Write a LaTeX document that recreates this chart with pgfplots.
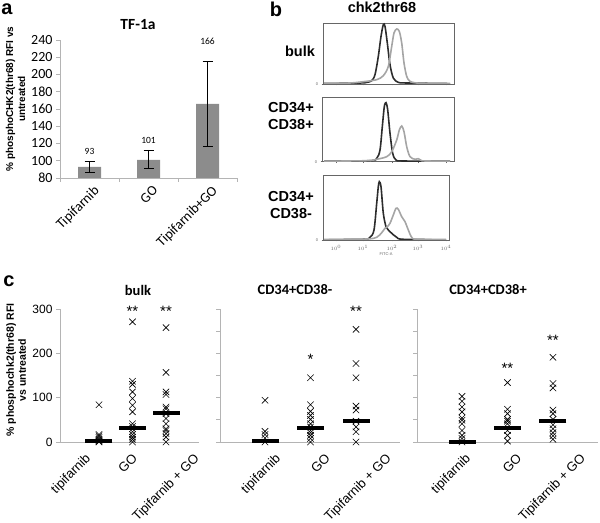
\documentclass[border=0pt]{standalone}
\usepackage{fontspec}
\setmainfont{Liberation Sans}
\newfontfamily\calfont{Carlito}
\usepackage{pgfplots}
\pgfplotsset{compat=1.18}

\newcommand\fs[2]{\fontsize{#1}{#2}\selectfont}

\definecolor{barg}{RGB}{140,140,140}
\definecolor{axg}{RGB}{180,180,180}
\definecolor{hdark}{RGB}{45,45,45}
\definecolor{hlight}{RGB}{165,165,165}

\pgfplotsset{
  base/.style={scale only axis, anchor=south west,
    /pgf/number format/assume math mode=true},
  xl/.style={base, clip=false, axis x line*=bottom, axis y line*=left,
    axis line style={axg, line width=0.8bp},
    tick style={axg, line width=0.8bp}, tick align=outside,
    major tick length=4bp},
  scat/.style={xl, width=#1, height=133bp, ymin=0, ymax=300,
    xtick style={draw=none},
    x tick label style={rotate=45, anchor=north east, inner sep=0pt,
      yshift=-9bp, font=\fs{13bp}{13bp}},
    y tick label style={font=\fs{12bp}{12bp}}},
  hist/.style={base, axis line style={black!60, line width=0.7bp},
    tick style={black!60, line width=0.5bp}, tick align=outside,
    major tick length=1.5bp, tick pos=left, ymin=0,
    xtick={336,363,392,418,446}, xticklabels={}, ytick={0},
    y tick label style={font=\fs{4bp}{4bp}, black!60}},
  cross/.style={only marks, mark=x, mark size=4.5bp, line width=0.6bp, black},
  med/.style={only marks, mark=-, mark size=13.5bp,
    mark options={line width=4bp}, black},
  stars/.style={draw=none, mark=none, nodes near coords,
    point meta=explicit symbolic,
    every node near coord/.append style={anchor=center, font=\fs{15bp}{15bp}}},
  dk/.style={smooth, draw=hdark, line width=1.6bp, mark=none},
  lt/.style={smooth, draw=hlight, line width=1.6bp, mark=none},
}

\begin{document}
\begin{tikzpicture}[x=1bp, y=1bp]
\path[use as bounding box] (0,0) rectangle (600,523);

% ---------- a ----------
\begin{axis}[xl, clip=true, at={(60bp,345bp)}, width=177bp, height=138bp,
  xmin=-0.5, xmax=2.5, ymin=80, ymax=240, ytick={80,100,...,240},
  xtick={-0.5,0.5,1.5,2.5}, xticklabels={Tipifarnib,GO,Tipifarnib+GO},
  x tick label as interval,
  x tick label style={rotate=45, anchor=north east, xshift=4bp, yshift=-1bp,
    font=\calfont\fs{14bp}{14bp}},
  y tick label style={font=\calfont\fs{14bp}{14bp}}]
\addplot[ybar, bar width=23bp, fill=barg, draw=none,
  error bars/.cd, y dir=both, y explicit,
  error bar style={black, line width=0.8bp},
  error mark options={black, line width=0.8bp, mark size=5bp, rotate=90}]
  coordinates {(0,93) += (0,6.4) -= (0,6.8)
               (1,101) += (0,11.5) -= (0,10.3)
               (2,166) += (0,49) -= (0,49)};
\addplot[draw=none, mark=none, nodes near coords, point meta=explicit symbolic,
  every node near coord/.append style={anchor=center, font=\calfont\fs{9.5bp}{9.5bp}}]
  coordinates {(0,110.5)[93] (1,123)[101] (2,238)[166]};
\end{axis}

\node[font=\bfseries\fs{20bp}{20bp}] at (7,514) {a};
\node[font=\calfont\bfseries\fs{15.5bp}{15.5bp}] at (138,498) {TF-1a};
\node[font=\bfseries\fs{10bp}{12bp}, rotate=90, align=center] at (15.5,424)
  {\% phosphoCHK2(thr68) RFI vs\\untreated};

% ---------- b ----------
\begin{axis}[hist, at={(323bp,439bp)}, width=131bp, height=61bp,
  xmin=323, xmax=454, ymax=61]
\addplot[dk] coordinates {(324,0.5) (360,1) (366.7,1.6) (371.7,3.3) (375,9.3)
  (378.3,27.6) (381,47.6) (383.3,59.3) (385,57.6) (387.3,41) (390,19.3)
  (393.3,6) (398.3,1.6) (406.7,1) (450,0.4)};
\addplot[lt] coordinates {(324,0.5) (350,1) (363.3,2.3) (376.7,4.3) (383.3,8.3)
  (388.3,17.6) (391.7,37.6) (394,51) (396.7,55) (399.3,52.6) (401.7,41)
  (404,21) (406.7,7.6) (410,2.6) (416.7,1) (430,0.6) (450,0.4)};
\end{axis}

\begin{axis}[hist, at={(322bp,361.3bp)}, width=132bp, height=64.4bp,
  xmin=322, xmax=454, ymax=64.4]
\addplot[dk] coordinates {(324,0.5) (370,1) (376.7,3.4) (380,11.7) (382.3,35)
  (384.3,55) (386,59) (387.7,51.7) (390,28.4) (392.7,8.4) (396,1.7)
  (403.3,0.7) (450,0.4)};
\addplot[lt] coordinates {(324,0.5) (366.7,1) (376.7,2.4) (386.7,5) (391.7,10)
  (396.7,21.7) (399.3,31.7) (401.7,35.7) (404,30) (406.7,15) (410,5)
  (415,2.4) (418.3,3) (421.7,1) (426.7,0.7) (450,0.4)};
\end{axis}

\begin{axis}[hist, at={(323bp,283bp)}, width=126bp, height=65bp,
  xmin=323, xmax=449, ymax=65,
  xticklabels={$10^0$,$10^1$,$10^2$,$10^3$,$10^4$},
  x tick label style={font=\fs{4.5bp}{4.5bp}, black!60},
  xlabel={FITC-A}, xlabel style={font=\fs{4bp}{4bp}, black!60, yshift=4bp}]
\addplot[dk] coordinates {(324,0.4) (363.3,0.7) (370,2.7) (374,10) (376.7,36.7)
  (378.3,53.3) (379.3,58.3) (381,53.3) (383.3,26.7) (386,13.3) (388.3,10)
  (391.7,6.7) (396.7,2.7) (403.3,0.7) (446,0.4)};
\addplot[lt] coordinates {(324,0.4) (366.7,1) (376.7,2.7) (381.7,7.3) (385,11.7)
  (387.3,13.3) (390,16.7) (393.3,25) (396,31.7) (398.3,30.7) (401.7,23.3)
  (405,18.3) (408.3,10) (411.7,2.7) (416.7,0.7) (446,0.4)};
\end{axis}

\node[font=\bfseries\fs{20bp}{20bp}] at (276,514) {b};
\node[font=\bfseries\fs{14.5bp}{14.5bp}] at (382,516) {chk2thr68};
\node[font=\bfseries\fs{14.5bp}{14.5bp}] at (300,472) {bulk};
\node[font=\bfseries\fs{14.5bp}{17bp}, align=center] at (291,406.5) {CD34+\\CD38+};
\node[font=\bfseries\fs{14.5bp}{17bp}, align=center] at (291,318) {CD34+\\CD38-};

% ---------- c ----------
\begin{axis}[scat=139bp, at={(60bp,81bp)}, xmin=-1.164, xmax=2.985,
  ytick={0,100,200,300}, xtick={-0.63,0.78,2.62},
  xticklabels={tipifarnib,GO,Tipifarnib + GO}]
\addplot[cross] coordinates {
  (0,84) (0,17) (0,14) (0,10) (0,6) (0,3) (0,1) (0,0)
  (1,271) (1,137) (1,130) (1,113) (1,98) (1,83) (1,68) (1,41) (1,35) (1,30)
  (1,23) (1,17) (1,11) (1,6) (1,0)
  (2,258) (2,157) (2,113) (2,107) (2,79) (2,75) (2,64) (2,53) (2,41) (2,30)
  (2,26) (2,19) (2,11) (2,0)};
\addplot[med] coordinates {(0,2) (1,32) (2,65)};
\addplot[stars] coordinates {(1,294)[**] (2,294)[**]};
\end{axis}

\begin{axis}[scat=180bp, at={(220bp,81bp)}, xmin=-0.989, xmax=2.967,
  ytick={0,50,...,300}, yticklabels={}, xtick={0.066,1.165,2.5},
  xticklabels={tipifarnib,GO,Tipifarnib + GO}]
\addplot[cross] coordinates {
  (0,94) (0,24) (0,17) (0,9) (0,0)
  (1,145) (1,84) (1,69) (1,60) (1,51) (1,41) (1,34) (1,26) (1,21) (1,15)
  (1,8) (1,0)
  (2,254) (2,177) (2,145) (2,81) (2,72) (2,47) (2,34) (2,23) (2,0)};
\addplot[med] coordinates {(0,2) (1,32) (2,48)};
\addplot[stars] coordinates {(1,187)[*] (2,294)[**]};
\end{axis}

\begin{axis}[scat=181bp, at={(417bp,81bp)}, xmin=-0.989, xmax=2.99,
  ytick={0,50,...,300}, yticklabels={}, xtick={-0.088,1.046,2.44},
  xticklabels={tipifarnib,GO,Tipifarnib + GO}]
\addplot[cross] coordinates {
  (0,103) (0,92) (0,79) (0,68) (0,54) (0,49) (0,41) (0,26) (0,15) (0,8) (0,0)
  (1,134) (1,74) (1,64) (1,51) (1,47) (1,41) (1,26) (1,15) (1,2)
  (2,191) (2,132) (2,122) (2,72) (2,64) (2,51) (2,39) (2,30) (2,21) (2,14)
  (2,6)};
\addplot[med] coordinates {(0,1) (1,32) (2,48)};
\addplot[stars] coordinates {(1,166)[**] (2,230)[**]};
\end{axis}

\node[font=\bfseries\fs{20bp}{20bp}] at (9,242) {c};
\node[font=\calfont\bfseries\fs{14.5bp}{14.5bp}] at (138,233) {bulk};
\node[font=\calfont\bfseries\fs{14.5bp}{14.5bp}] at (295,233) {CD34+CD38-};
\node[font=\calfont\bfseries\fs{14.5bp}{14.5bp}] at (488,233) {CD34+CD38+};
\node[font=\bfseries\fs{10.5bp}{12bp}, rotate=90, align=center] at (16,153)
  {\% phosphochk2(thr68) RFI\\vs untreated};
\end{tikzpicture}
\end{document}
